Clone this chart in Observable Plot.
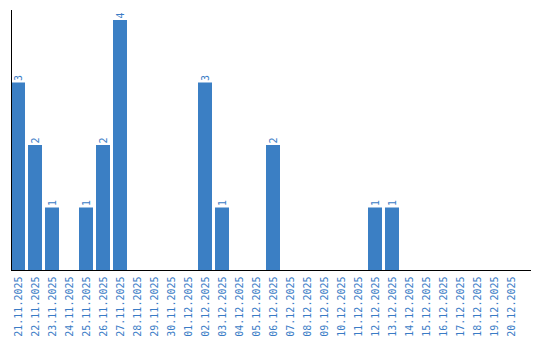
<!DOCTYPE html>
<html><head><meta charset="utf-8">
<script src="https://cdn.jsdelivr.net/npm/d3@7"></script>
<script src="https://cdn.jsdelivr.net/npm/@observablehq/plot@0.6"></script>
<style>body{margin:0;background:#fff;} svg text{-webkit-font-smoothing:none;}</style>
</head><body><div id="chart"></div>
<script>
const dates = ["21.11.2025","22.11.2025","23.11.2025","24.11.2025","25.11.2025","26.11.2025","27.11.2025","28.11.2025","29.11.2025","30.11.2025","01.12.2025","02.12.2025","03.12.2025","04.12.2025","05.12.2025","06.12.2025","07.12.2025","08.12.2025","09.12.2025","10.12.2025","11.12.2025","12.12.2025","13.12.2025","14.12.2025","15.12.2025","16.12.2025","17.12.2025","18.12.2025","19.12.2025","20.12.2025"];
const counts = [3,2,1,0,1,2,4,0,0,0,0,3,1,0,0,2,0,0,0,0,0,1,1,0,0,0,0,0,0,0];
const barColor = "#3b7fc4";
const textColor = "#3a7cc6";

const data = dates.map((d, i) => ({date: d, count: counts[i]}));
const nonzero = data.filter(d => d.count > 0);

const chart = Plot.plot({
  width: 540,
  height: 340,
  marginLeft: 11,
  marginRight: 9,
  marginTop: 10,
  marginBottom: 70,
  style: {fontFamily: "DejaVu Sans Mono", fontSize: "10px", background: "white"},
  x: {domain: dates, paddingInner: 0.176, paddingOuter: 0.382, align: 0},
  y: {domain: [0, d3.max(counts)], insetTop: 10, axis: null},
  marks: [
    Plot.barY(data, {x: "date", y: "count", fill: barColor}),
    Plot.text(nonzero, {x: "date", y: "count", text: d => String(d.count), rotate: -90, textAnchor: "start", dy: -2, fill: textColor, fontSize: 10}),
    Plot.axisX({tickRotate: -90, tickSize: 0, tickPadding: 6, fill: textColor, label: null, fontSize: 10}),
    Plot.frame({anchor: "left", stroke: "black"}),
    Plot.ruleY([0], {stroke: "black"})
  ]
});
document.getElementById("chart").appendChild(chart);
</script>
</body></html>
